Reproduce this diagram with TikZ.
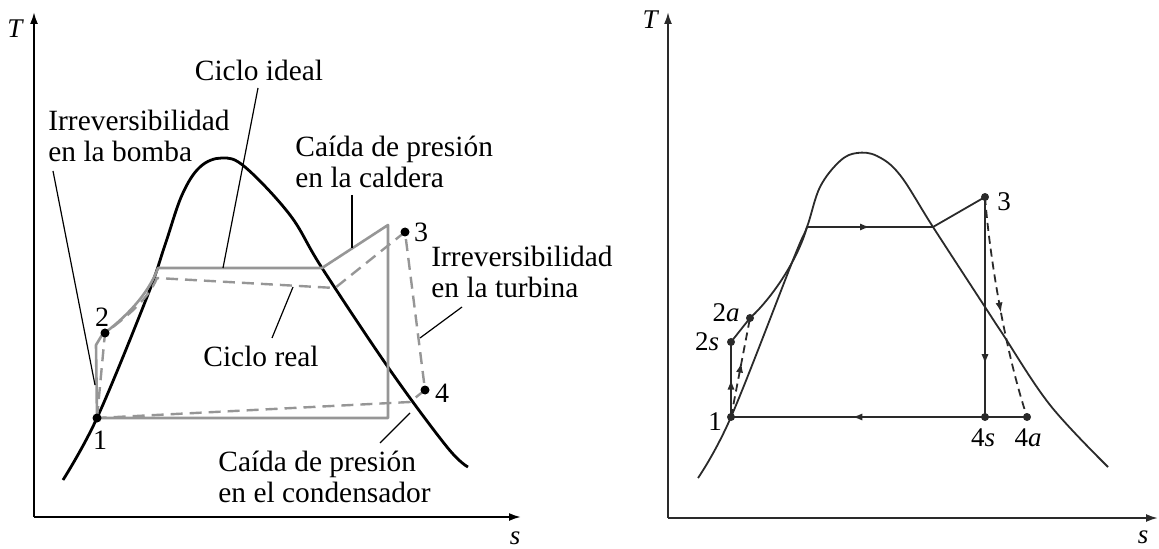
\documentclass[tikz,border=0pt]{standalone}
\usepackage{fontspec}
\setmainfont{Liberation Serif}
\usepackage{xcolor}
\usetikzlibrary{arrows.meta,decorations.markings}
\definecolor{grisc}{HTML}{969696}
\definecolor{negro}{HTML}{2A2A2A}
\tikzset{
  eje/.style={line width=1pt,-{Latex[length=6pt,width=4pt]}},
  domo/.style={line width=1.4pt},
  ideal/.style={draw=grisc,line width=1.3pt,line join=round},
  real/.style={draw=grisc,line width=1.2pt,dash pattern=on 6pt off 3.5pt},
  guia/.style={line width=0.6pt},
  punto/.style={circle,fill,inner sep=0pt,minimum size=4.5pt},
  texto/.style={font=\fontsize{14.7}{15.5}\selectfont,align=left,inner sep=0pt},
  num/.style={font=\fontsize{14}{14}\selectfont,inner sep=0pt},
  numb/.style={font=\fontsize{13.5}{13.5}\selectfont,inner sep=0pt},
  eti/.style={font=\fontsize{13.5}{13.5}\selectfont\itshape,inner sep=0pt},
  linea/.style={draw=negro,line width=0.9pt},
  flechamed/.style={postaction={decorate},decoration={markings,
    mark=at position #1 with {\arrow{Latex[length=5pt,width=3.6pt]}}}},
}

\begin{document}
\begin{tikzpicture}[x=0.5pt,y=-0.5pt]
	\useasboundingbox (0,0) rectangle (1159,549);
	% ejes izquierda
	\coordinate (o1) at (34,517);
	\coordinate (t1) at (34,12);
	\coordinate (s1) at (521,517);
	\draw [eje] (o1) -- (t1);
	\draw [eje] (o1) -- (s1);
	\node [eti] (lT1) at (15,29) {T};
	\node [eti] (ls1) at (515,538) {s};
	% campana:
	\draw [domo] plot [smooth,tension=0.6] coordinates {(63,480) (97,418) (147,297) (165,245) (182,195) (200,167) (222,158) (245,167) (290,215) (322,268) (390,370) (447,447) (468,467)};
	% puntos del ciclo
	\coordinate (p1) at (97,418);
	\coordinate (p2) at (105,333);
	\coordinate (p3) at (405,232);
	\coordinate (p4) at (425,390);
	\coordinate (a1) at (96,345);
	\coordinate (a0) at (102,335);
	\coordinate (a2) at (158,268);
	\coordinate (a3) at (322,268);
	\coordinate (a4) at (388,225);
	\coordinate (a5) at (388,418);
	\coordinate (b1) at (157,278);
	\coordinate (b2) at (335,288);
	\coordinate (b3) at (410,402);
	% ciclo ideal y ciclo real
	\draw [ideal] (p1) -- (a1) -- (a0) .. controls (125,318) and (148,295) .. (a2) -- (a3) -- (a4) -- (a5) -- cycle;
	\draw [real] (p1) -- (p2) .. controls (125,318) and (148,300) .. (b1) -- (b2) -- (p3) -- (p4) -- (b3) -- (p1);
	\node [punto] (d1) at (p1) {};
	\node [punto] (d2) at (p2) {};
	\node [punto] (d3) at (p3) {};
	\node [punto] (d4) at (p4) {};
	\node [num] (l1) at (100,440) {1};
	\node [num] (l2) at (102,317) {2};
	\node [num] (l3) at (421,232) {3};
	\node [num] (l4) at (442,393) {4};
	% textos
	\node [texto,anchor=base west] (bomba) at (48,162) {Irreversibilidad\\en la bomba};
	\node [texto,anchor=base] (cideal) at (259,81) {Ciclo ideal};
	\node [texto,anchor=base west] (caldera) at (295,188) {Caída de presión\\en la caldera};
	\node [texto,anchor=base west] (turbina) at (431,298) {Irreversibilidad\\en la turbina};
	\node [texto,anchor=base] (creal) at (261,366) {Ciclo real};
	\node [texto,anchor=base west] (conden) at (218,502) {Caída de presión\\en el condensador};
	% lineas guia
	\coordinate (g1) at (53,171);
	\coordinate (h1) at (95,385);
	\coordinate (g2) at (258,88);
	\coordinate (h2) at (223,268);
	\coordinate (g3) at (272,338);
	\coordinate (h3) at (293,287);
	\coordinate (g4) at (352,195);
	\coordinate (h4) at (352,248);
	\coordinate (g5) at (462,307);
	\coordinate (h5) at (420,338);
	\coordinate (g6) at (380,443);
	\coordinate (h6) at (410,413);
	\draw [guia] (g1) -- (h1);
	\draw [guia] (g2) -- (h2);
	\draw [guia] (g3) -- (h3);
	\draw [guia] (g4) -- (h4);
	\draw [guia] (g5) -- (h5);
	\draw [guia] (g6) -- (h6);

	% ejes derecha
	\coordinate (o2) at (668,518);
	\coordinate (t2) at (668,12);
	\coordinate (s2) at (1158,518);
	\draw [eje,negro] (o2) -- (t2);
	\draw [eje,negro] (o2) -- (s2);
	\node [eti] (lT2) at (650,20) {T};
	\node [eti] (ls2) at (1143,537) {s};
	% campana:
	\draw [linea] plot [smooth,tension=0.6] coordinates {(698,478) (731,417) (793,260) (807,227) (820,187) (840,161) (857,153) (877,156) (900,175) (933,227) (985,307) (1002,333) (1050,405) (1108,467)};
	\coordinate (q1) at (731,417);
	\coordinate (q2s) at (731,342);
	\coordinate (q2a) at (750,318);
	\coordinate (q3) at (985,197);
	\coordinate (q4s) at (985,417);
	\coordinate (q4a) at (1027,417);
	\coordinate (c1) at (807,227);
	\coordinate (c2) at (933,227);
	\draw [linea,flechamed=0.5] (q1) -- (q2s);
	\draw [linea] (q2s) -- (q2a);
	\draw [linea] (q2a) .. controls (770,300) and (797,262) .. (c1);
	\draw [linea,dash pattern=on 4pt off 2.5pt,flechamed=0.55] (q1) -- (q2a);
	\draw [linea,flechamed=0.5] (c1) -- (c2);
	\draw [linea] (c2) -- (q3);
	\draw [linea,flechamed=0.76] (q3) -- (q4s);
	\draw [linea,dash pattern=on 4pt off 2.5pt,flechamed=0.52] (q3) .. controls (990,260) and (1005,350) .. (q4a);
	\draw [linea,flechamed=0.59] (q4a) -- (q1);
	\node [punto,negro,minimum size=4pt] (e1) at (q1) {};
	\node [punto,negro,minimum size=4pt] (e2s) at (q2s) {};
	\node [punto,negro,minimum size=4pt] (e2a) at (q2a) {};
	\node [punto,negro,minimum size=4pt] (e3) at (q3) {};
	\node [punto,negro,minimum size=4pt] (e4s) at (q4s) {};
	\node [punto,negro,minimum size=4pt] (e4a) at (q4a) {};
	\node [numb] (m1) at (715,422) {1};
	\node [numb] (m2s) at (707,342) {2\textit{s}};
	\node [numb] (m2a) at (726,313) {2\textit{a}};
	\node [numb] (m3) at (1004,202) {3};
	\node [numb] (m4s) at (983,438) {4\textit{s}};
	\node [numb] (m4a) at (1028,438) {4\textit{a}};
\end{tikzpicture}
\end{document}
